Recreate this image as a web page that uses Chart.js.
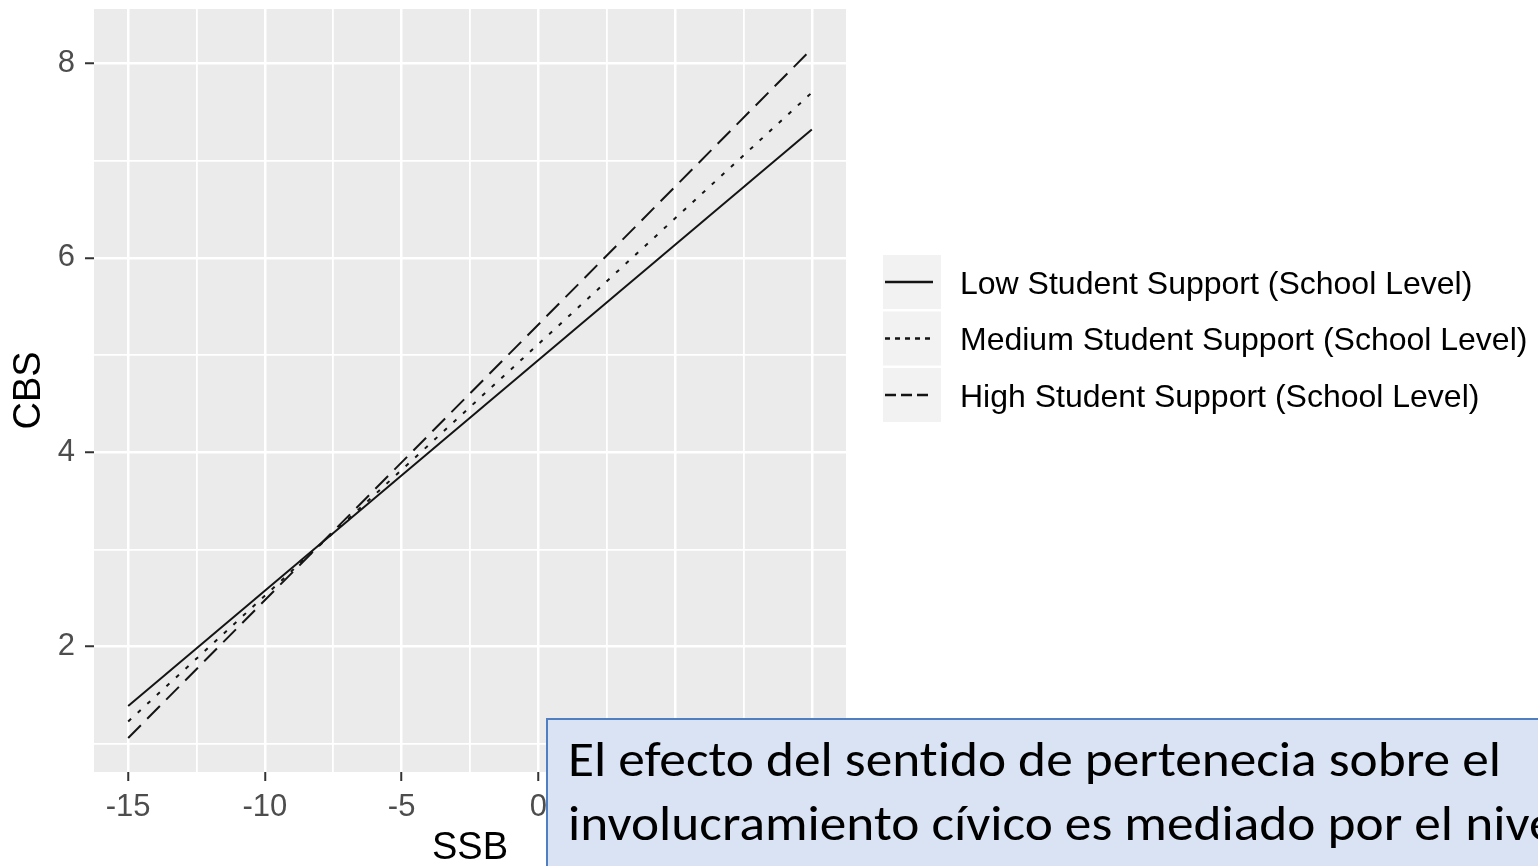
<!DOCTYPE html>
<html>
<head>
<meta charset="utf-8">
<title>CBS vs SSB</title>
<script src="https://cdn.jsdelivr.net/npm/chart.js@4.4.1/dist/chart.umd.min.js"></script>
<style>
    html, body { margin: 0; padding: 0; background: #fff; overflow: hidden; }
    #wrap { position: relative; width: 1538px; height: 866px; }
    #note {
        position: absolute; left: 546px; top: 718px; width: 1100px; height: 200px;
        box-sizing: border-box; background: #dae3f3; border: 2px solid #4f7fc0;
        padding: 7px 0 0 20px; color: #000; white-space: nowrap;
        font-family: Carlito, Lato, 'Open Sans', sans-serif; font-size: 50px; line-height: 64px;
        font-variant-ligatures: none; font-feature-settings: "liga" 0, "clig" 0;
    }
    #note .ln { transform-origin: left center; }
</style>
</head>
<body>
<div id="wrap">
    <canvas id="chart"></canvas>
    <div id="note">
        <div class="ln">El efecto del sentido de pertenecia sobre el</div>
        <div class="ln">involucramiento cívico es mediado por el nivel</div>
    </div>
</div>
<script>
// valores (rectas de -15 a 10)
const xValues = [-15, 10];
const lowSupport = [1.39, 7.32];
const mediumSupport = [1.23, 7.70];
const highSupport = [1.06, 8.15];
const seriesLabels = [
    'Low Student Support (School Level)',
    'Medium Student Support (School Level)',
    'High Student Support (School Level)'
];

// ticks del eje
const xMajorTicks = [-15, -10, -5, 0, 5, 10];
const xMinorTicks = [-12.5, -7.5, -2.5, 2.5, 7.5];
const xTickLabels = ['-15', '-10', '-5', '0', '5', '10'];
const yMajorTicks = [2, 4, 6, 8];
const yMinorTicks = [1, 3, 5, 7];
const yTickLabels = ['2', '4', '6', '8'];

const FONT = "'Liberation Sans', Arial, sans-serif";

const toPoints = (ys) => xValues.map((x, i) => ({ x: x, y: ys[i] }));

// fondo gris del panel (estilo ggplot)
const panelBg = {
    id: 'panelBg',
    beforeDraw(chart) {
        const { ctx, chartArea: a } = chart;
        ctx.save();
        ctx.fillStyle = '#ebebeb';
        ctx.fillRect(a.left, a.top, a.right - a.left, a.bottom - a.top);
        ctx.restore();
    }
};

// leyenda con cajas grises
const ggLegend = {
    id: 'ggLegend',
    afterDraw(chart, args, opts) {
        const ctx = chart.ctx;
        chart.data.datasets.forEach((ds, i) => {
            const top = opts.top + i * opts.rowHeight;
            const h = opts.rowHeight - 2.5;
            const cy = top + h / 2;
            ctx.save();
            ctx.fillStyle = '#f2f2f2';
            ctx.fillRect(opts.left, top, opts.keyWidth, h);
            ctx.strokeStyle = ds.borderColor;
            ctx.lineWidth = 2.5;
            ctx.setLineDash(opts.keyDash[i]);
            ctx.beginPath();
            ctx.moveTo(opts.left + 2, cy);
            ctx.lineTo(opts.left + 50, cy);
            ctx.stroke();
            ctx.setLineDash([]);
            ctx.fillStyle = '#000';
            ctx.font = '32px ' + FONT;
            ctx.textBaseline = 'middle';
            ctx.fillText(ds.label, opts.textX, cy + 3);
            ctx.restore();
        });
    }
};

const isMajor = (list, v) => list.indexOf(v) >= 0;

new Chart(document.getElementById('chart'), {
    type: 'line',
    data: {
        datasets: [
            { label: seriesLabels[0], data: toPoints(lowSupport), borderDash: [] },
            { label: seriesLabels[1], data: toPoints(mediumSupport), borderDash: [4, 9] },
            { label: seriesLabels[2], data: toPoints(highSupport), borderDash: [18, 9] }
        ].map(ds => Object.assign(ds, {
            borderColor: '#141414',
            borderWidth: 2,
            pointRadius: 0,
            fill: false,
            tension: 0
        }))
    },
    options: {
        responsive: true,
        maintainAspectRatio: false,
        animation: false,
        layout: { padding: { top: 9, right: 692, left: 0, bottom: 0 } },
        plugins: {
            legend: { display: false },
            tooltip: { enabled: false },
            ggLegend: {
                left: 883, top: 255, rowHeight: 56.5, keyWidth: 58, textX: 960,
                keyDash: [[], [5, 5], [11, 5]]
            }
        },
        scales: {
            x: {
                type: 'linear',
                min: -16.25,
                max: 11.25,
                afterBuildTicks: s => {
                    s.ticks = [...xMajorTicks, ...xMinorTicks].sort((a, b) => a - b).map(v => ({ value: v }));
                },
                afterFit: s => {
                    s.height = 94;
                    s.paddingLeft = 0;
                    s.paddingRight = 0;
                },
                border: { display: false },
                grid: {
                    color: '#ffffff',
                    lineWidth: c => isMajor(xMajorTicks, c.tick.value) ? 2.5 : 1.8,
                    tickColor: c => isMajor(xMajorTicks, c.tick.value) ? '#333333' : 'rgba(0,0,0,0)',
                    tickWidth: 2,
                    tickLength: 9
                },
                ticks: {
                    autoSkip: false,
                    maxRotation: 0,
                    color: '#4d4d4d',
                    padding: 8,
                    font: { family: FONT, size: 31 },
                    callback: v => {
                        const i = xMajorTicks.indexOf(v);
                        return i >= 0 ? xTickLabels[i] : '';
                    }
                },
                title: {
                    display: true,
                    text: 'SSB',
                    color: '#000',
                    font: { family: FONT, size: 38, lineHeight: 1 },
                    padding: { top: 0, bottom: -2 }
                }
            },
            y: {
                type: 'linear',
                min: 0.71,
                max: 8.56,
                afterBuildTicks: s => {
                    s.ticks = [...yMajorTicks, ...yMinorTicks].sort((a, b) => a - b).map(v => ({ value: v }));
                },
                afterFit: s => {
                    s.width = 94;
                    s.paddingTop = 0;
                    s.paddingBottom = 0;
                },
                border: { display: false },
                grid: {
                    color: '#ffffff',
                    lineWidth: c => isMajor(yMajorTicks, c.tick.value) ? 2.5 : 1.8,
                    tickColor: c => isMajor(yMajorTicks, c.tick.value) ? '#333333' : 'rgba(0,0,0,0)',
                    tickWidth: 2,
                    tickLength: 9
                },
                ticks: {
                    autoSkip: false,
                    color: '#4d4d4d',
                    padding: 10,
                    font: { family: FONT, size: 31 },
                    callback: v => {
                        const i = yMajorTicks.indexOf(v);
                        return i >= 0 ? yTickLabels[i] : '';
                    }
                },
                title: {
                    display: true,
                    text: 'CBS',
                    color: '#000',
                    font: { family: FONT, size: 38, lineHeight: 1 },
                    padding: { top: 11, bottom: 0 }
                }
            }
        }
    },
    plugins: [panelBg, ggLegend]
});

// ajustar el ancho del texto del cuadro (Calibri no está disponible)
const noteLines = document.querySelectorAll('#note .ln');
const range = document.createRange();
range.selectNodeContents(noteLines[0]);
const k = (933 / range.getBoundingClientRect().width).toFixed(4);
noteLines.forEach(el => { el.style.transform = 'scaleX(' + k + ')'; });
</script>
</body>
</html>
